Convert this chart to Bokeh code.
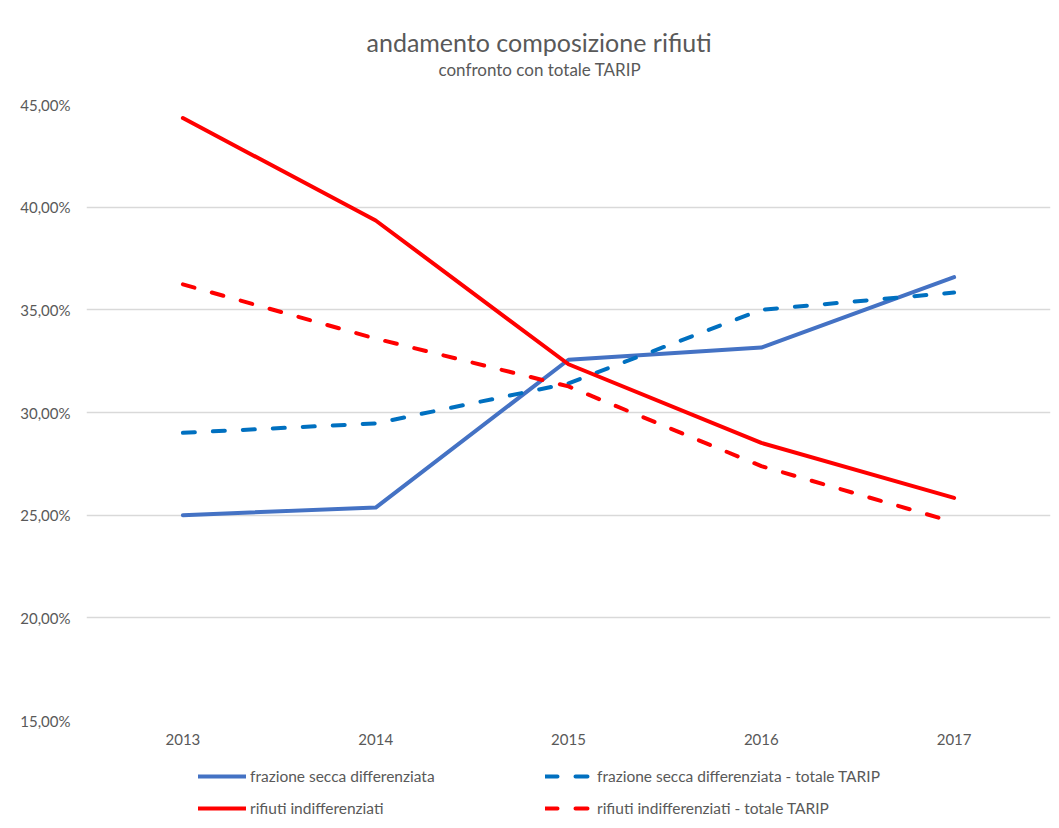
from bokeh.plotting import figure
from bokeh.layouts import column
from bokeh.models import FactorRange, Range1d, FixedTicker, Legend, LegendItem, Title
from bokeh.embed import file_html
from bokeh.resources import INLINE

# ---- data ----
years = ["2013", "2014", "2015", "2016", "2017"]
frazione_secca = [25.00, 25.37, 32.57, 33.16, 36.59]
frazione_secca_tarip = [29.01, 29.47, 31.42, 35.00, 35.84]
indifferenziati = [44.34, 39.35, 32.35, 28.52, 25.84]
indifferenziati_tarip = [36.24, 33.60, 31.27, 27.39, 24.66]

series_names = [
    "frazione secca differenziata",
    "frazione secca differenziata - totale TARIP",
    "rifiuti indifferenziati",
    "rifiuti indifferenziati - totale TARIP",
]
y_ticks = [15, 20, 25, 30, 35, 40, 45]
y_tick_labels = ["15,00%", "20,00%", "25,00%", "30,00%", "35,00%", "40,00%", "45,00%"]
title_text = "andamento composizione rifiuti"
subtitle_text = "confronto con totale TARIP"

FONT = "Lato"
TXT = "#595959"
W = 1051

styles = [
    dict(color="#4472C4", line_dash="solid"),
    dict(color="#0070C0", line_dash="12 18"),
    dict(color="#FF0000", line_dash="solid"),
    dict(color="#FF0000", line_dash="12 18"),
]
data = [frazione_secca, frazione_secca_tarip, indifferenziati, indifferenziati_tarip]

# ---- main chart ----
p = figure(width=W, height=757, title=None,
           x_range=FactorRange(factors=years), y_range=Range1d(15, 45),
           output_backend="svg", toolbar_location=None,
           min_border_left=86, min_border_right=1,
           min_border_top=104, min_border_bottom=37)
p.outline_line_color = None
p.background_fill_color = "white"
p.border_fill_color = "white"

p.xgrid.grid_line_color = None
p.ygrid.grid_line_color = "#D9D9D9"
p.ygrid.grid_line_width = 1.3

p.yaxis.ticker = FixedTicker(ticks=y_ticks)
p.yaxis.major_label_overrides = dict(zip(y_ticks, y_tick_labels))

for ax in (p.xaxis[0], p.yaxis[0]):
    ax.axis_line_color = None
    ax.major_tick_line_color = None
    ax.minor_tick_line_color = None
    ax.major_tick_out = 0
    ax.major_tick_in = 0
    ax.major_label_text_font = FONT
    ax.major_label_text_font_size = "15px"
    ax.major_label_text_color = TXT
p.yaxis.major_label_standoff = 16
p.xaxis.major_label_standoff = 13

for vals, st in zip(data, styles):
    p.line(x=years, y=vals, line_color=st["color"], line_width=4,
           line_dash=st["line_dash"], line_cap="round", line_join="round")

# spacer (nearest the frame), subtitle, then main title (farthest)
p.add_layout(Title(text=" ", text_font_size="10px", standoff=12, text_color="white"), "above")
p.add_layout(Title(text=subtitle_text, align="left", offset=352, standoff=0,
                   text_font=FONT, text_font_size="17px", text_font_style="normal",
                   text_color=TXT), "above")
p.add_layout(Title(text=title_text, align="left", offset=280, standoff=0,
                   text_font=FONT, text_font_size="25px", text_font_style="normal",
                   text_color=TXT), "above")

# ---- legend strip (same series, drawn out of view; only the legend shows) ----
pl = figure(width=W, height=63, x_range=p.x_range, y_range=Range1d(1000, 1001),
            x_axis_type=None, y_axis_type=None,
            output_backend="svg", toolbar_location=None,
            min_border_left=86, min_border_right=1, min_border_top=0, min_border_bottom=0)
pl.outline_line_color = None
pl.xgrid.visible = False
pl.ygrid.visible = False

items = []
for name, vals, st in zip(series_names, data, styles):
    r = pl.line(x=years, y=vals, line_color=st["color"], line_width=4,
                line_dash=st["line_dash"], line_cap="round", line_join="round")
    items.append(LegendItem(label=name, renderers=[r]))

legend = Legend(items=items, location=(112, 0), orientation="horizontal", ncols=2,
                padding=0, margin=0, spacing=8,
                glyph_width=48, glyph_height=24, label_height=24,
                label_standoff=4, label_width=287,
                border_line_color=None, background_fill_alpha=0,
                label_text_font=FONT, label_text_font_size="15.5px",
                label_text_color=TXT)
pl.add_layout(legend)

layout = column(p, pl, spacing=0)
open("out.html", "w").write(file_html(layout, INLINE))
